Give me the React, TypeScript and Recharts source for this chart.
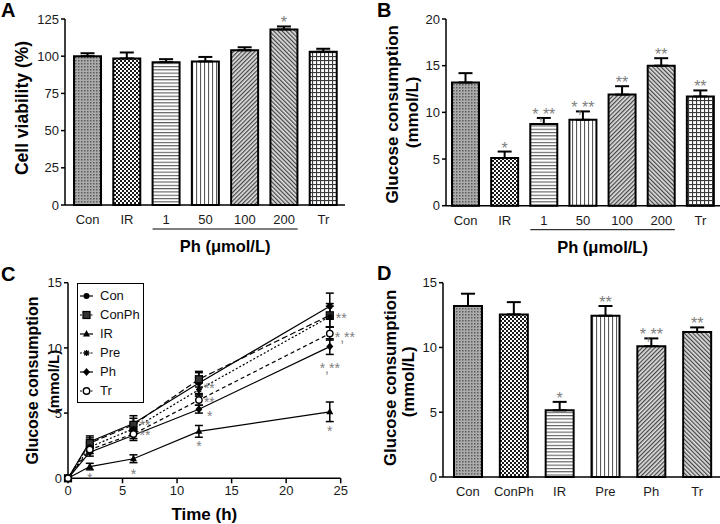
import React from 'react';
import { BarChart, Bar, XAxis, YAxis, ErrorBar, Cell, LabelList, LineChart, Line, Legend } from 'recharts';

const FONT = '"Liberation Sans", Arial, Helvetica, sans-serif';

// ---------- Panel A: cell viability ----------
const viabilityGroups = ['Con', 'IR', '1', '50', '100', '200', 'Tr'];
const viabilityMean = [100, 98.5, 96, 96.5, 104, 118, 103];
const viabilityErr = [2, 4, 2, 3, 2, 2, 2];
const viabilityMarks = ['', '', '', '', '', '*', ''];
const viabilityTicks = [0, 25, 50, 75, 100, 125];

// ---------- Panel B: glucose consumption by dose ----------
const doseGroups = ['Con', 'IR', '1', '50', '100', '200', 'Tr'];
const doseGlucose = [13.2, 5.1, 8.75, 9.2, 11.9, 15.0, 11.7];
const doseErr = [1.0, 0.7, 0.65, 0.9, 0.9, 0.8, 0.65];
const doseMarks = ['', '*', '*,**', '*,**', '**', '**', '**'];
const doseTicks = [0, 5, 10, 15, 20];

// ---------- Panel C: time course ----------
const timePoints = [0, 2, 6, 12, 24];
const timeTicks = [0, 5, 10, 15, 20, 25];
const tcTicks = [0, 5, 10, 15];
const tcCon = [0, 2.8, 4.2, 7.3, 13.2];
const tcConErr = [0, 0.45, 0.6, 0.8, 1.0];
const tcConMarks = ['', '', '', '', ''];
const tcConPh = [0, 2.7, 4.1, 7.6, 12.5];
const tcConPhErr = [0, 0.4, 0.5, 0.6, 0.9];
const tcConPhMarks = ['', '', '', '', '**'];
const tcIR = [0, 0.9, 1.5, 3.6, 5.1];
const tcIRErr = [0, 0.25, 0.3, 0.45, 0.75];
const tcIRMarks = ['', '*', '*', '*', '*'];
const tcPre = [0, 2.4, 3.8, 6.8, 12.4];
const tcPreErr = [0, 0.3, 0.4, 0.5, 0.8];
const tcPreMarks = ['', '', '**', '**', ''];
const tcPh = [0, 2.0, 3.3, 5.3, 10.1];
const tcPhErr = [0, 0.3, 0.4, 0.3, 0.6];
const tcPhMarks = ['', '', '', '*', '*,**'];
const tcTr = [0, 2.2, 3.4, 6.0, 11.1];
const tcTrErr = [0, 0.3, 0.35, 0.4, 0.5];
const tcTrMarks = ['', '', '**', '**', '*,**'];

// ---------- Panel D: treatments ----------
const treatGroups = ['Con', 'ConPh', 'IR', 'Pre', 'Ph', 'Tr'];
const treatGlucose = [13.2, 12.55, 5.15, 12.45, 10.1, 11.2];
const treatErr = [0.95, 0.95, 0.65, 0.75, 0.6, 0.35];
const treatMarks = ['', '', '*', '**', '*,**', '**'];
const treatTicks = [0, 5, 10, 15];

// ---------- styles (not data) ----------
const fillsAB = ['url(#pDots)', 'url(#pChk)', 'url(#pHor)', 'url(#pVer)', 'url(#pDiagR)', 'url(#pDiagL)', 'url(#pGrid)'];
const fillsD = ['url(#pDots)', 'url(#pChk)', 'url(#pHor)', 'url(#pVer)', 'url(#pDiagR)', 'url(#pDiagL)'];

type Off = [number, number, 'start' | 'middle'] | null;
const tcSeries: { key: string; name: string; dash?: string; shape: string; offs: Off[] }[] = [
  { key: 'con', name: 'Con', shape: 'circle', offs: [null, null, null, null, null] },
  { key: 'conPh', name: 'ConPh', dash: '6 3', shape: 'square', offs: [null, null, null, null, [6, 0, 'start']] },
  { key: 'ir', name: 'IR', shape: 'triangle', offs: [null, [0, 8, 'middle'], [0, 12, 'middle'], [0, 12, 'middle'], [0, 16, 'middle']] },
  { key: 'pre', name: 'Pre', dash: '2 2', shape: 'star', offs: [null, null, [6, -7, 'start'], [5, -5, 'start'], null] },
  { key: 'ph', name: 'Ph', shape: 'diamond', offs: [null, null, null, [8, 4, 'start'], [0, 18, 'middle']] },
  { key: 'tr', name: 'Tr', dash: '4 3', shape: 'open', offs: [null, null, [6, -2, 'start'], [5, -1, 'start'], [5, 0, 'start']] },
];

// ---------- data tables ----------
const aData = viabilityGroups.map((g, i) => ({ name: g, value: viabilityMean[i], err: [0, viabilityErr[i]], mark: viabilityMarks[i] }));
const bData = doseGroups.map((g, i) => ({ name: g, value: doseGlucose[i], err: [0, doseErr[i]], mark: doseMarks[i] }));
const dData = treatGroups.map((g, i) => ({ name: g, value: treatGlucose[i], err: [0, treatErr[i]], mark: treatMarks[i] }));
const cData = timePoints.map((t, i) => ({
  t,
  con: tcCon[i], conErr: tcConErr[i], conMark: tcConMarks[i],
  conPh: tcConPh[i], conPhErr: tcConPhErr[i], conPhMark: tcConPhMarks[i],
  ir: tcIR[i], irErr: tcIRErr[i], irMark: tcIRMarks[i],
  pre: tcPre[i], preErr: tcPreErr[i], preMark: tcPreMarks[i],
  ph: tcPh[i], phErr: tcPhErr[i], phMark: tcPhMarks[i],
  tr: tcTr[i], trErr: tcTrErr[i], trMark: tcTrMarks[i],
}));

const tickStyle = { fontSize: 13, fill: '#1a1a1a', fontFamily: FONT };
const axisLine = { stroke: '#000', strokeWidth: 1.5 };
const tickLine = { stroke: '#000', strokeWidth: 1.5 };
const MARK_COLOR = '#808080';

const getVB = (p: any) => {
  const vb = p.viewBox || {};
  return {
    x: vb.x ?? p.x ?? 0,
    y: vb.y ?? p.y ?? 0,
    width: vb.width ?? p.width ?? 0,
    height: vb.height ?? p.height ?? 0,
  };
};

const yTitle = (lines: string[], xs: number[], sizes: number[], shifts: number[]) => (p: any) => {
  const vb = getVB(p);
  return (
    <g>
      {lines.map((l, i) => {
        const cy = vb.y + vb.height / 2 + shifts[i];
        const cx = vb.x + xs[i];
        return (
          <text key={i} x={cx} y={cy} transform={`rotate(-90 ${cx} ${cy})`} textAnchor="middle"
            dominantBaseline="central" fontWeight="bold" fontSize={sizes[i]} fontFamily={FONT} fill="#000">{l}</text>
        );
      })}
    </g>
  );
};

const phGroupDeco = (first: number, last: number, count: number, padL: number, padR: number) => (p: any) => {
  const vb = getVB(p);
  const band = (vb.width - padL - padR) / count;
  const x1 = vb.x + padL + first * band + 6;
  const x2 = vb.x + padL + (last + 1) * band - 6;
  const y = vb.y + 24;
  return (
    <g>
      <line x1={x1} x2={x2} y1={y} y2={y} stroke="#000" strokeWidth={1} />
      <text x={(x1 + x2) / 2} y={vb.y + 41} textAnchor="middle" dominantBaseline="central" fontWeight="bold" fontSize={16.5} fontFamily={FONT} fill="#000">Ph (μmol/L)</text>
    </g>
  );
};

const barMark = (means: number[], errs: number[], fontSize: number) => (p: any) => {
  const vb = getVB(p);
  const i = p.index;
  const txt = p.value;
  if (!txt) return null;
  const pxPerUnit = vb.height / means[i];
  const capY = vb.y - errs[i] * pxPerUnit;
  return (
    <text x={vb.x + vb.width / 2} y={capY + 2} textAnchor="middle" fontSize={fontSize} fontFamily={FONT} fill={MARK_COLOR}>{txt}</text>
  );
};

const lineMark = (offs: Off[], fontSize: number) => (p: any) => {
  const vb = getVB(p);
  const i = p.index;
  const txt = p.value;
  const o = offs[i];
  if (!txt || !o) return null;
  return (
    <text x={vb.x + o[0]} y={vb.y + o[1] + fontSize * 0.57} textAnchor={o[2]} fontSize={fontSize} fontFamily={FONT} fill={MARK_COLOR}>{txt}</text>
  );
};

const marker = (shape: string, cx: number, cy: number, k: string) => {
  switch (shape) {
    case 'circle':
      return <circle key={k} cx={cx} cy={cy} r={3} fill="#000" />;
    case 'square':
      return <rect key={k} x={cx - 3.5} y={cy - 3.5} width={7} height={7} fill="#333" stroke="#000" strokeWidth={1.2} />;
    case 'triangle':
      return <polygon key={k} points={`${cx},${cy - 4} ${cx - 3.5},${cy + 2.5} ${cx + 3.5},${cy + 2.5}`} fill="#000" />;
    case 'star':
      return (
        <g key={k} stroke="#000" strokeWidth={1.3}>
          <line x1={cx - 3} x2={cx + 3} y1={cy} y2={cy} />
          <line x1={cx} x2={cx} y1={cy - 3} y2={cy + 3} />
          <line x1={cx - 2.2} x2={cx + 2.2} y1={cy - 2.2} y2={cy + 2.2} />
          <line x1={cx - 2.2} x2={cx + 2.2} y1={cy + 2.2} y2={cy - 2.2} />
        </g>
      );
    case 'diamond':
      return <polygon key={k} points={`${cx},${cy - 4} ${cx + 3.5},${cy} ${cx},${cy + 4} ${cx - 3.5},${cy}`} fill="#000" />;
    default:
      return <circle key={k} cx={cx} cy={cy} r={3.2} fill="#fff" stroke="#000" strokeWidth={1.4} />;
  }
};

const dotFor = (shape: string) => (p: any) => {
  const k = `dot-${shape}-${p.index}`;
  if (p.cx == null || p.cy == null) return <g key={k} />;
  return marker(shape, p.cx, p.cy, k);
};

const renderLegend = () => (
  <div style={{ border: '1px solid #000', width: 67, height: 120, boxSizing: 'border-box', background: '#fff', paddingTop: 2, fontFamily: FONT }}>
    {tcSeries.map((s) => (
      <div key={s.key} style={{ display: 'flex', alignItems: 'center', height: 19, fontSize: 13, color: '#111' }}>
        <svg width={21} height={10} style={{ marginLeft: 1 }}>
          <line x1={1} x2={14} y1={5} y2={5} stroke="#000" strokeWidth={1.2} strokeDasharray={s.dash ? '2 1.5' : undefined} />
          {marker(s.shape, 7.5, 5, 'lg')}
        </svg>
        <span>{s.name}</span>
      </div>
    ))}
  </div>
);

const letterStyle: React.CSSProperties = { position: 'absolute', fontFamily: FONT, fontWeight: 'bold', fontSize: 20, lineHeight: '20px', color: '#000' };

export default function App() {
  return (
    <div style={{ position: 'absolute', left: 0, top: 0, width: 720, height: 524, background: '#fff', overflow: 'hidden', fontFamily: FONT }}>
      <svg width={0} height={0} style={{ position: 'absolute' }}>
        <defs>
          <pattern id="pDots" width="3" height="3" patternUnits="userSpaceOnUse">
            <rect width="3" height="3" fill="#ababab" />
            <rect width="1.5" height="1.5" fill="#5c5c5c" />
          </pattern>
          <pattern id="pChk" width="4" height="4" patternUnits="userSpaceOnUse">
            <rect width="4" height="4" fill="#fff" />
            <rect width="2" height="2" fill="#1a1a1a" />
            <rect x="2" y="2" width="2" height="2" fill="#1a1a1a" />
          </pattern>
          <pattern id="pHor" width="3" height="3.3" patternUnits="userSpaceOnUse">
            <rect width="3" height="3.3" fill="#fff" />
            <rect width="3" height="1.1" fill="#5a5a5a" />
          </pattern>
          <pattern id="pVer" width="4" height="3" patternUnits="userSpaceOnUse">
            <rect width="4" height="3" fill="#fff" />
            <rect width="1.1" height="3" fill="#5a5a5a" />
          </pattern>
          <pattern id="pDiagR" width="3" height="3" patternUnits="userSpaceOnUse" patternTransform="rotate(45)">
            <rect width="3" height="3" fill="#dedede" />
            <rect width="1.2" height="3" fill="#444" />
          </pattern>
          <pattern id="pDiagL" width="3" height="3" patternUnits="userSpaceOnUse" patternTransform="rotate(-45)">
            <rect width="3" height="3" fill="#dedede" />
            <rect width="1.2" height="3" fill="#444" />
          </pattern>
          <pattern id="pGrid" width="4" height="4" patternUnits="userSpaceOnUse">
            <rect width="4" height="4" fill="#fff" />
            <rect width="4" height="1.1" fill="#3a3a3a" />
            <rect width="1.1" height="4" fill="#3a3a3a" />
          </pattern>
        </defs>
      </svg>

      <div style={{ ...letterStyle, left: 1, top: 0 }}>A</div>
      <div style={{ ...letterStyle, left: 377, top: 0 }}>B</div>
      <div style={{ ...letterStyle, left: 1, top: 264 }}>C</div>
      <div style={{ ...letterStyle, left: 377, top: 263 }}>D</div>

      {/* Panel A */}
      <div style={{ position: 'absolute', left: 0, top: 0 }}>
        <BarChart width={360} height={260} data={aData} margin={{ top: 19, right: 15, bottom: 0, left: 0 }}>
          <XAxis dataKey="name" height={55} padding={{ left: 3, right: 2 }} axisLine={axisLine} tickLine={false} tickSize={5} tickMargin={5}
            tick={tickStyle} interval={0} label={phGroupDeco(2, 5, 7, 3, 2)} />
          <YAxis width={65} domain={[0, 125]} ticks={viabilityTicks} axisLine={axisLine} tickLine={tickLine} tickSize={4} tickMargin={2}
            tick={tickStyle} interval={0} label={yTitle(['Cell viability (%)'], [22], [17.5], [-4])} />
          <Bar dataKey="value" barSize={27} isAnimationActive={false} stroke="#000" strokeWidth={2}>
            {aData.map((d, i) => <Cell key={d.name} fill={fillsAB[i]} stroke="#000" strokeWidth={2} />)}
            <ErrorBar dataKey="err" width={7} strokeWidth={2} stroke="#000" direction="y" />
            <LabelList dataKey="mark" content={barMark(viabilityMean, viabilityErr, 16)} />
          </Bar>
        </BarChart>
      </div>

      {/* Panel B */}
      <div style={{ position: 'absolute', left: 360, top: 0 }}>
        <BarChart width={360} height={260} data={bData} margin={{ top: 19, right: 0, bottom: 0, left: 0 }}>
          <XAxis dataKey="name" height={54.3} padding={{ left: 0, right: 0 }} axisLine={axisLine} tickLine={false} tickSize={5} tickMargin={5}
            tick={tickStyle} interval={0} label={phGroupDeco(2, 5, 7, 0, 0)} />
          <YAxis width={86} domain={[0, 20]} ticks={doseTicks} axisLine={axisLine} tickLine={tickLine} tickSize={4} tickMargin={2}
            tick={tickStyle} interval={0} label={yTitle(['Glucose consumption', '(mmol/L)'], [33, 53], [17, 17], [2, 0])} />
          <Bar dataKey="value" barSize={27} isAnimationActive={false} stroke="#000" strokeWidth={2}>
            {bData.map((d, i) => <Cell key={d.name + i} fill={fillsAB[i]} stroke="#000" strokeWidth={2} />)}
            <ErrorBar dataKey="err" width={7} strokeWidth={2} stroke="#000" direction="y" />
            <LabelList dataKey="mark" content={barMark(doseGlucose, doseErr, 16)} />
          </Bar>
        </BarChart>
      </div>

      {/* Panel C */}
      <div style={{ position: 'absolute', left: 0, top: 260 }}>
        <LineChart width={360} height={264} data={cData} margin={{ top: 22.7, right: 19.3, bottom: 0, left: 0 }}>
          <XAxis dataKey="t" type="number" domain={[0, 25]} ticks={timeTicks} height={45.7} axisLine={axisLine} tickLine={tickLine}
            tickSize={5} tickMargin={2} tick={tickStyle} interval={0}
            label={(p: any) => {
              const vb = getVB(p);
              return <text x={vb.x + vb.width / 2} y={vb.y + 36} textAnchor="middle" dominantBaseline="central" fontWeight="bold" fontSize={17} fontFamily={FONT} fill="#000">Time (h)</text>;
            }} />
          <YAxis width={68} domain={[0, 15]} ticks={tcTicks} axisLine={axisLine} tickLine={tickLine} tickSize={4} tickMargin={2}
            tick={tickStyle} interval={0} label={yTitle(['Glucose consumption', '(mmol/L)'], [32, 53], [16, 15], [0, 1])} />
          <Legend layout="vertical" align="center" verticalAlign="middle" content={renderLegend}
            wrapperStyle={{ left: 77, top: 23, width: 'auto', height: 'auto' }} />
          {tcSeries.map((s) => (
            <Line key={s.key} dataKey={s.key} name={s.name} type="linear" stroke="#000" strokeWidth={1.2}
              strokeDasharray={s.dash} dot={dotFor(s.shape)} activeDot={false} isAnimationActive={false}>
              <ErrorBar dataKey={`${s.key}Err`} width={4} strokeWidth={1.5} stroke="#000" direction="y" />
              <LabelList dataKey={`${s.key}Mark`} content={lineMark(s.offs, 14)} />
            </Line>
          ))}
        </LineChart>
      </div>

      {/* Panel D */}
      <div style={{ position: 'absolute', left: 360, top: 260 }}>
        <BarChart width={360} height={264} data={dData} margin={{ top: 22.7, right: 0, bottom: 0, left: 0 }}>
          <XAxis dataKey="name" height={47} padding={{ left: 2, right: 0 }} axisLine={axisLine} tickLine={false} tickSize={5} tickMargin={5}
            tick={tickStyle} interval={0} />
          <YAxis width={83} domain={[0, 15]} ticks={treatTicks} axisLine={axisLine} tickLine={tickLine} tickSize={4} tickMargin={2}
            tick={tickStyle} interval={0} label={yTitle(['Glucose consumption', '(mmol/L)'], [31, 49], [16.8, 16.8], [-2, 2])} />
          <Bar dataKey="value" barSize={28} isAnimationActive={false} stroke="#000" strokeWidth={2}>
            {dData.map((d, i) => <Cell key={d.name} fill={fillsD[i]} stroke="#000" strokeWidth={2} />)}
            <ErrorBar dataKey="err" width={7} strokeWidth={2} stroke="#000" direction="y" />
            <LabelList dataKey="mark" content={barMark(treatGlucose, treatErr, 16)} />
          </Bar>
        </BarChart>
      </div>
    </div>
  );
}
